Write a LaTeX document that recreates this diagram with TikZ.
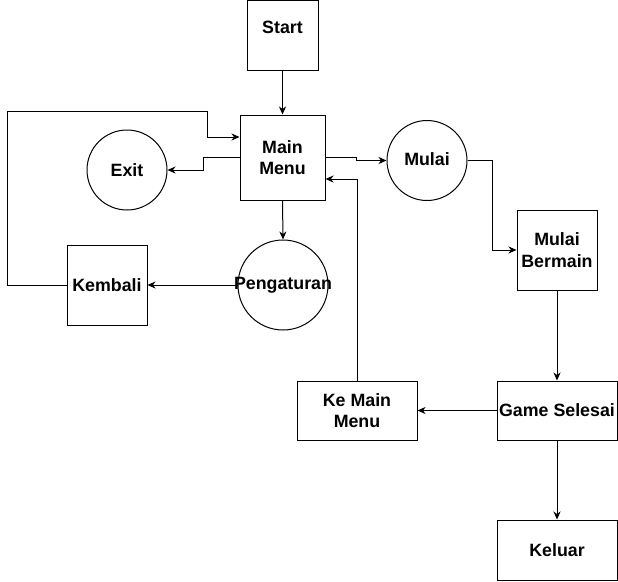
\documentclass[tikz,border=0pt]{standalone}
\usepackage{fontspec}
\setmainfont{Liberation Sans}
\usetikzlibrary{arrows.meta}
\begin{document}
\begin{tikzpicture}[x=1pt,y=-1pt,
  every node/.style={font=\bfseries\fontsize{17.8}{21.5}\selectfont, align=center},
  boxn/.style={draw, line width=1pt, rectangle, inner sep=0pt},
  circn/.style={draw, line width=1pt, circle, inner sep=0pt},
  arr/.style={draw, line width=1pt, -{Stealth[length=8pt,width=7pt,inset=2.5pt]}},
  ln/.style={draw, line width=1pt}]
\useasboundingbox (0,0) rectangle (618,581);
\node[boxn, minimum width=71pt, minimum height=70pt] (start) at (282.5,35.5) {};
\node (startt) at ([yshift=8pt]start.center) {Start};
\node[boxn, minimum width=85pt, minimum height=85pt] (main) at (282.5,157.5) {Main\\Menu};
\node[circn, minimum size=80pt] (exit) at (127,170) {};
\node (exitt) at (exit) {Exit};
\node[circn, minimum size=80pt] (mulai) at (427,160.5) {};
\node (mulait) at ([yshift=1pt]mulai.center) {Mulai};
\node[circn, minimum size=90pt] (peng) at (283,285) {};
\node (pengt) at (peng) {Pengaturan};
\node[boxn, minimum width=80pt, minimum height=80pt] (kembali) at (107,285) {Kembali};
\node[boxn, minimum width=80pt, minimum height=80pt] (bermain) at (557,250) {Mulai\\Bermain};
\node[boxn, minimum width=120pt, minimum height=59pt] (game) at (557,410.5) {Game Selesai};
\node[boxn, minimum width=120pt, minimum height=59pt] (kmm) at (357,410.5) {Ke Main\\Menu};
\node[boxn, minimum width=120pt, minimum height=60pt] (keluar) at (557,550) {Keluar};
\coordinate (l1) at (7,111);
\coordinate (l2) at (207,111);
\draw[arr] (start.south) -- (main.north);
\draw[arr] (main.west) -- ++(-36,0) |- (exit.east);
\draw[arr] (main.east) -- ++(31,0) |- (mulai.west);
\draw[arr] (mulai.east) -- ++(25,0) |- (bermain.west);
\draw[arr] (main.south) -- (peng.north);
\draw[arr] (peng.west) -- (kembali.east);
\draw[arr] (kembali.west) -| (l1) -- (l2) |- ([yshift=20.5pt]main.west);
\draw[arr] (bermain.south) -- (game.north);
\draw[arr] (game.west) -- (kmm.east);
\draw[arr] (kmm.north) |- ([yshift=-21.5pt]main.east);
\draw[arr] (game.south) -- (keluar.north);
\end{tikzpicture}
\end{document}
